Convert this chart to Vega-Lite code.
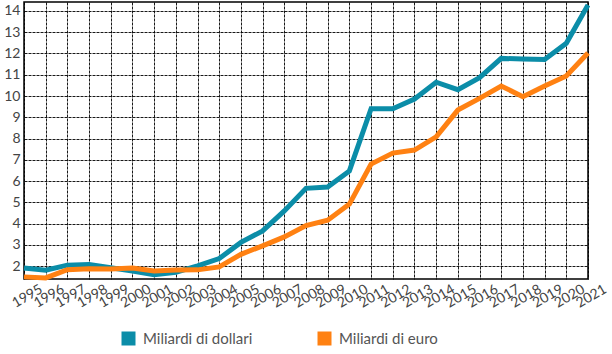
{
  "$schema": "https://vega.github.io/schema/vega-lite/v6.json",
  "width": 564,
  "height": 277,
  "autosize": {"type": "none"},
  "padding": {"left": 24, "top": 2, "right": 24, "bottom": 75},
  "background": "white",
  "config": {
    "view": {"stroke": "#000", "strokeWidth": 1.5},
    "font": "Lato",
    "axis": {
      "domain": false,
      "ticks": false,
      "tickSize": 0,
      "grid": true,
      "gridColor": "#000",
      "gridDash": [3, 1],
      "gridWidth": 1,
      "gridOpacity": 0.9,
      "labelColor": "#444",
      "labelFontSize": 14,
      "labelFont": "Lato",
      "title": null
    }
  },
  "data": {
    "values": [
      {"year": 1995, "series": "Miliardi di dollari", "value": 1.92},
      {"year": 1996, "series": "Miliardi di dollari", "value": 1.81},
      {"year": 1997, "series": "Miliardi di dollari", "value": 2.05},
      {"year": 1998, "series": "Miliardi di dollari", "value": 2.08},
      {"year": 1999, "series": "Miliardi di dollari", "value": 1.93},
      {"year": 2000, "series": "Miliardi di dollari", "value": 1.78},
      {"year": 2001, "series": "Miliardi di dollari", "value": 1.6},
      {"year": 2002, "series": "Miliardi di dollari", "value": 1.72},
      {"year": 2003, "series": "Miliardi di dollari", "value": 2.02},
      {"year": 2004, "series": "Miliardi di dollari", "value": 2.36},
      {"year": 2005, "series": "Miliardi di dollari", "value": 3.12},
      {"year": 2006, "series": "Miliardi di dollari", "value": 3.66},
      {"year": 2007, "series": "Miliardi di dollari", "value": 4.6},
      {"year": 2008, "series": "Miliardi di dollari", "value": 5.66},
      {"year": 2009, "series": "Miliardi di dollari", "value": 5.72},
      {"year": 2010, "series": "Miliardi di dollari", "value": 6.48},
      {"year": 2011, "series": "Miliardi di dollari", "value": 9.4},
      {"year": 2012, "series": "Miliardi di dollari", "value": 9.4},
      {"year": 2013, "series": "Miliardi di dollari", "value": 9.86},
      {"year": 2014, "series": "Miliardi di dollari", "value": 10.65},
      {"year": 2015, "series": "Miliardi di dollari", "value": 10.3},
      {"year": 2016, "series": "Miliardi di dollari", "value": 10.86},
      {"year": 2017, "series": "Miliardi di dollari", "value": 11.77},
      {"year": 2018, "series": "Miliardi di dollari", "value": 11.74},
      {"year": 2019, "series": "Miliardi di dollari", "value": 11.72},
      {"year": 2020, "series": "Miliardi di dollari", "value": 12.48},
      {"year": 2021, "series": "Miliardi di dollari", "value": 14.28},
      {"year": 1995, "series": "Miliardi di euro", "value": 1.5},
      {"year": 1996, "series": "Miliardi di euro", "value": 1.45},
      {"year": 1997, "series": "Miliardi di euro", "value": 1.84},
      {"year": 1998, "series": "Miliardi di euro", "value": 1.88},
      {"year": 1999, "series": "Miliardi di euro", "value": 1.87},
      {"year": 2000, "series": "Miliardi di euro", "value": 1.92},
      {"year": 2001, "series": "Miliardi di euro", "value": 1.78},
      {"year": 2002, "series": "Miliardi di euro", "value": 1.82},
      {"year": 2003, "series": "Miliardi di euro", "value": 1.83},
      {"year": 2004, "series": "Miliardi di euro", "value": 1.97},
      {"year": 2005, "series": "Miliardi di euro", "value": 2.56},
      {"year": 2006, "series": "Miliardi di euro", "value": 2.96},
      {"year": 2007, "series": "Miliardi di euro", "value": 3.38},
      {"year": 2008, "series": "Miliardi di euro", "value": 3.91},
      {"year": 2009, "series": "Miliardi di euro", "value": 4.16},
      {"year": 2010, "series": "Miliardi di euro", "value": 4.92},
      {"year": 2011, "series": "Miliardi di euro", "value": 6.8},
      {"year": 2012, "series": "Miliardi di euro", "value": 7.32},
      {"year": 2013, "series": "Miliardi di euro", "value": 7.46},
      {"year": 2014, "series": "Miliardi di euro", "value": 8.08},
      {"year": 2015, "series": "Miliardi di euro", "value": 9.34},
      {"year": 2016, "series": "Miliardi di euro", "value": 9.89},
      {"year": 2017, "series": "Miliardi di euro", "value": 10.47},
      {"year": 2018, "series": "Miliardi di euro", "value": 9.97},
      {"year": 2019, "series": "Miliardi di euro", "value": 10.47},
      {"year": 2020, "series": "Miliardi di euro", "value": 10.94},
      {"year": 2021, "series": "Miliardi di euro", "value": 12.02}
    ]
  },
  "mark": {"type": "line", "strokeWidth": 5, "clip": false},
  "encoding": {
    "x": {
      "field": "year",
      "type": "quantitative",
      "scale": {"domain": [1995, 2021], "nice": false, "zero": false},
      "axis": {
        "values": [1995, 1996, 1997, 1998, 1999, 2000, 2001, 2002, 2003, 2004, 2005, 2006, 2007, 2008, 2009, 2010, 2011, 2012, 2013, 2014, 2015, 2016, 2017, 2018, 2019, 2020, 2021],
        "format": "d",
        "labelAngle": -30,
        "labelAlign": "center",
        "labelBaseline": "middle",
        "labelPadding": 17,
        "labelOffset": 3,
        "labelOverlap": false,
        "labelBound": false,
        "labelFlush": false
      }
    },
    "y": {
      "field": "value",
      "type": "quantitative",
      "scale": {"domain": [1.4, 14.42], "nice": false, "zero": false},
      "axis": {
        "values": [2, 3, 4, 5, 6, 7, 8, 9, 10, 11, 12, 13, 14],
        "labelPadding": 4,
        "labelFlush": false,
        "labelOverlap": false
      }
    },
    "color": {
      "field": "series",
      "type": "nominal",
      "scale": {"domain": ["Miliardi di dollari", "Miliardi di euro"], "range": ["#0b8da8", "#ff8112"]},
      "legend": {
        "title": null,
        "orient": "none",
        "legendX": 97,
        "legendY": 329,
        "direction": "horizontal",
        "symbolType": "square",
        "symbolSize": 49,
        "symbolStrokeWidth": 7,
        "symbolOpacity": 1,
        "labelFontSize": 15,
        "labelColor": "#555",
        "labelOffset": 7,
        "columnPadding": 54,
        "padding": 0
      }
    }
  }
}
